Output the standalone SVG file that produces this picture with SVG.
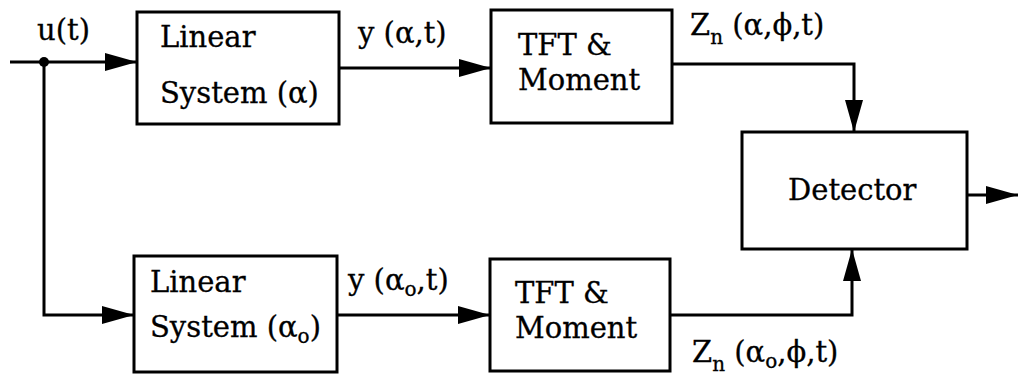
<svg xmlns="http://www.w3.org/2000/svg" width="1018" height="375" viewBox="0 0 1018 375">
  <style>
    .box { fill: #fff; stroke: #000; stroke-width: 3; }
    .wire { fill: none; stroke: #000; stroke-width: 3; }
    text { font-family: "DejaVu Serif", "Liberation Serif", serif; font-size: 29px; fill: #000; stroke: #000; stroke-width: 0.3; }
    .sub { font-size: 20px; }
  </style>
  <defs>
    <marker id="arrow" viewBox="0 0 32 18" refX="32" refY="9" markerWidth="32" markerHeight="18" markerUnits="userSpaceOnUse" orient="auto">
      <path d="M0,0 L32,9 L0,18 Z" fill="#000"/>
    </marker>
  </defs>

  <!-- connectors -->
  <g id="connectors">
    <path class="wire" d="M10,62 H137" marker-end="url(#arrow)"/>
    <path class="wire" d="M44,62 V315 H134" marker-end="url(#arrow)"/>
    <circle cx="44" cy="62" r="5" fill="#000"/>
    <path class="wire" d="M339,68 H491" marker-end="url(#arrow)"/>
    <path class="wire" d="M337,315 H490" marker-end="url(#arrow)"/>
    <path class="wire" d="M672,64 H854 V132" marker-end="url(#arrow)"/>
    <path class="wire" d="M670,315 H852 V249" marker-end="url(#arrow)"/>
    <path class="wire" d="M967,195 H1018" marker-end="url(#arrow)"/>
  </g>

  <!-- signal labels -->
  <g id="labels">
    <text x="37" y="40">u(t)</text>
    <text x="358" y="43">y (α,t)</text>
    <text x="348" y="290">y (α<tspan class="sub" dy="6">o</tspan><tspan dy="-6">,t)</tspan></text>
    <text x="690" y="35">Z<tspan class="sub" dy="9">n</tspan><tspan dy="-9"> (α,ϕ,t)</tspan></text>
    <text x="692" y="362">Z<tspan class="sub" dy="9">n</tspan><tspan dy="-9"> (α</tspan><tspan class="sub" dy="6">o</tspan><tspan dy="-6">,ϕ,t)</tspan></text>
  </g>

  <g id="linear-top">
    <rect class="box" x="137" y="12" width="202" height="112"/>
    <text x="160" y="47">Linear</text>
    <text x="160" y="103">System (α)</text>
  </g>

  <g id="tft-top">
    <rect class="box" x="491" y="10" width="181" height="113"/>
    <text x="518" y="55">TFT &amp;</text>
    <text x="518" y="90">Moment</text>
  </g>

  <g id="detector">
    <rect class="box" x="742" y="132" width="225" height="117"/>
    <text x="788" y="200">Detector</text>
  </g>

  <g id="linear-bottom">
    <rect class="box" x="134" y="256" width="203" height="116"/>
    <text x="150" y="292">Linear</text>
    <text x="150" y="337">System (α<tspan class="sub" dy="6">o</tspan><tspan dy="-6">)</tspan></text>
  </g>

  <g id="tft-bottom">
    <rect class="box" x="490" y="259" width="180" height="112"/>
    <text x="515" y="303">TFT &amp;</text>
    <text x="515" y="338">Moment</text>
  </g>
</svg>
